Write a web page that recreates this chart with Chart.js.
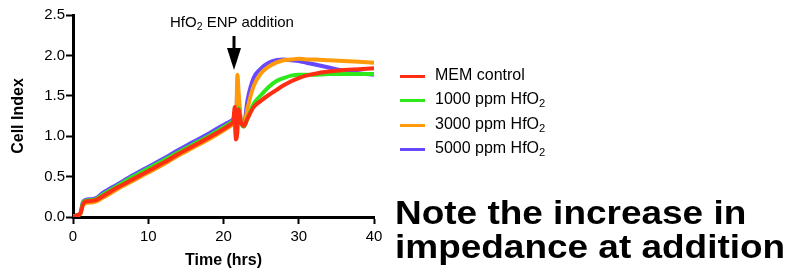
<!DOCTYPE html>
<html>
<head>
<meta charset="utf-8">
<script src="https://cdn.jsdelivr.net/npm/chart.js@4"></script>
<style>
  body { margin: 0; background: #fff; font-family: "Liberation Sans", Arial, sans-serif; }
  #wrap { position: relative; width: 792px; height: 279px; overflow: hidden; }
  #chart { position: absolute; left: 0; top: 0; }
  .note { position: absolute; font-size: 15px; color: #000; white-space: nowrap; }
  .legend { position: absolute; left: 400px; top: 66px; }
  .legend div { position: relative; height: 24.4px; font-size: 16px; white-space: nowrap; }
  .legend span.sw { position: absolute; left: 0; top: 9px; width: 25px; height: 3px; }
  .legend span.lb { position: absolute; left: 35px; top: 0; }
  sub { font-size: 70%; vertical-align: -0.3em; line-height: 0; }
  .big { position: absolute; left: 395px; font-size: 33px; font-weight: bold; white-space: nowrap;
         transform: scaleX(1.12); transform-origin: left top; line-height: 34px; }
</style>
</head>
<body>
<div id="wrap">
  <canvas id="chart" width="792" height="279"></canvas>
  <div class="note" style="left:170px; top:13px;">HfO<sub>2</sub> ENP addition</div>
  <svg style="position:absolute; left:0; top:0;" width="792" height="279">
    <line x1="234" y1="36" x2="234" y2="50" stroke="#000" stroke-width="3"/>
    <polygon points="227,48 241,48 234,70" fill="#000"/>
  </svg>
  <div class="legend" id="legend"></div>
  <div class="big" style="top:196px;">Note the increase in<br>impedance at addition</div>
</div>
<script>
document.addEventListener("DOMContentLoaded", function () {
    "use strict";

    // time points (hrs)
    const times = [0, 0.5, 1, 1.3, 1.6, 2.5, 3, 4, 6, 8, 10, 12, 14, 16, 18, 20,
        21, 21.3, 21.5, 21.65, 21.85, 22, 22.3, 22.7, 23.2,
        24, 25, 26, 27, 28, 29, 30, 31, 32, 34, 36, 38, 40];

    // cell index per condition
    const memControl = [0, 0.02, 0.05, 0.15, 0.19, 0.2, 0.21, 0.26, 0.37, 0.47, 0.57, 0.67, 0.78, 0.88, 0.98, 1.09,
        1.15, 1.19, 1.36, 0.96, 1.06, 1.33, 1.18, 1.13, 1.22,
        1.36, 1.44, 1.51, 1.57, 1.63, 1.68, 1.72, 1.75, 1.77, 1.8, 1.82, 1.83, 1.84];
    const hf1000 = [0, 0.02, 0.05, 0.17, 0.2, 0.21, 0.22, 0.28, 0.39, 0.5, 0.6, 0.7, 0.8, 0.9, 1.0, 1.11,
        1.17, 1.2, 1.3, 1.0, 1.3, 1.35, 1.18, 1.12, 1.22,
        1.4, 1.51, 1.61, 1.68, 1.72, 1.75, 1.76, 1.76, 1.76, 1.77, 1.77, 1.77, 1.77];
    const hf3000 = [0, 0.02, 0.04, 0.14, 0.17, 0.18, 0.19, 0.24, 0.35, 0.45, 0.55, 0.65, 0.76, 0.86, 0.96, 1.07,
        1.13, 1.15, 1.2, 1.0, 1.76, 1.55, 1.2, 1.12, 1.35,
        1.62, 1.78, 1.86, 1.91, 1.94, 1.95, 1.96, 1.95, 1.95, 1.94, 1.93, 1.92, 1.91];
    const hf5000 = [0, 0.02, 0.05, 0.18, 0.21, 0.22, 0.23, 0.3, 0.41, 0.52, 0.62, 0.72, 0.83, 0.93, 1.03, 1.14,
        1.19, 1.21, 1.25, 1.05, 1.6, 1.45, 1.2, 1.14, 1.45,
        1.72, 1.84, 1.91, 1.94, 1.95, 1.94, 1.93, 1.91, 1.89, 1.85, 1.81, 1.78, 1.76];

    const labels = ["MEM control", "1000 ppm HfO<sub>2</sub>", "3000 ppm HfO<sub>2</sub>", "5000 ppm HfO<sub>2</sub>"];
    const colors = ["#ff2e12", "#2ee81c", "#ff9a0a", "#6648ff"];
    const series = [memControl, hf1000, hf3000, hf5000];

    const xTicks = [0, 10, 20, 30, 40];
    const yTicks = [0, 0.5, 1.0, 1.5, 2.0, 2.5];

    const datasets = series.map((vals, i) => ({
        label: labels[i].replace(/<\/?sub>/g, ""),
        data: vals.map((v, j) => ({ x: times[j], y: v })),
        borderColor: colors[i],
        backgroundColor: colors[i],
        borderWidth: 4,
        pointRadius: 0,
        cubicInterpolationMode: "monotone",
        fill: false,
    }));

    const tickFont = { family: "'Liberation Sans', Arial", size: 15 };
    const titleFont = { family: "'Liberation Sans', Arial", size: 16, weight: "bold" };

    new Chart(document.getElementById("chart"), {
        type: "line",
        data: { datasets },
        options: {
            responsive: false,
            animation: false,
            layout: { padding: { left: 0, top: 15, right: 418, bottom: 0 } },
            plugins: { legend: { display: false }, tooltip: { enabled: false } },
            scales: {
                x: {
                    type: "linear",
                    min: xTicks[0],
                    max: xTicks[xTicks.length - 1],
                    afterBuildTicks: (s) => { s.ticks = xTicks.map((v) => ({ value: v })); },
                    afterFit: (s) => { s.height = 62; },
                    border: { display: true, color: "#000", width: 3 },
                    grid: { drawOnChartArea: false, tickLength: 7, tickColor: "#000", tickWidth: 2 },
                    ticks: { color: "#000", font: tickFont, padding: 4, maxRotation: 0 },
                    title: { display: true, text: "Time (hrs)", color: "#000", font: titleFont, padding: { top: 2, bottom: 9 } },
                },
                y: {
                    min: yTicks[0],
                    max: yTicks[yTicks.length - 1],
                    afterBuildTicks: (s) => { s.ticks = yTicks.map((v) => ({ value: v })); },
                    afterFit: (s) => { s.width = 73; },
                    border: { display: true, color: "#000", width: 3 },
                    grid: { drawOnChartArea: false, tickLength: 7, tickColor: "#000", tickWidth: 2 },
                    ticks: { color: "#000", font: tickFont, padding: 1, callback: (v) => v.toFixed(1) },
                    title: { display: true, text: "Cell Index", color: "#000", font: titleFont, padding: { top: 9, bottom: 4 } },
                },
            },
        },
    });

    // legend with real subscripts
    const legend = document.getElementById("legend");
    labels.forEach((lab, i) => {
        const row = document.createElement("div");
        row.innerHTML = '<span class="sw" style="background:' + colors[i] + '"></span><span class="lb">' + lab + "</span>";
        legend.appendChild(row);
    });
});
</script>
</body>
</html>
